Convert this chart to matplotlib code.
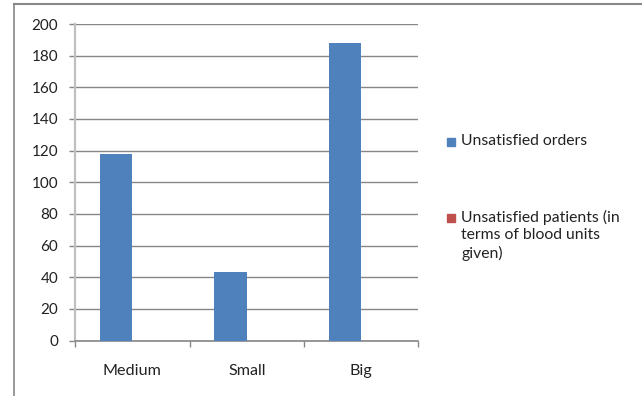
import matplotlib
matplotlib.use("Agg")
import matplotlib.pyplot as plt
import numpy as np
from matplotlib.lines import Line2D
from matplotlib.patches import Rectangle

categories = ["Medium", "Small", "Big"]
unsatisfied_orders = [118, 43, 188]
unsatisfied_patients = [0, 0, 0]
series_names = ["Unsatisfied orders",
                "Unsatisfied patients (in\nterms of blood units\ngiven)"]
series_colors = ["#4f81bd", "#c0504d"]
y_ticks = [0, 20, 40, 60, 80, 100, 120, 140, 160, 180, 200]

plt.rcParams["font.family"] = ["Lato", "DejaVu Sans"]

W, H = 642, 396
fig = plt.figure(figsize=(W / 100, H / 100), dpi=100)
ax = fig.add_axes([75 / W, 1 - 340.5 / H, (418.5 - 75) / W, (340.5 - 24) / H])

x = np.arange(len(categories))
bw = 1 / 3.5
ax.bar(x - bw / 2, unsatisfied_orders, width=bw, color=series_colors[0],
       linewidth=0, zorder=3)
ax.bar(x + bw / 2, unsatisfied_patients, width=bw, color=series_colors[1],
       linewidth=0, zorder=3)

ax.set_xlim(-0.5, len(categories) - 0.5)
ax.set_ylim(0, 200)
ax.set_yticks(y_ticks)
ax.set_yticklabels([str(v) for v in y_ticks], fontsize=11, color="#222222")
ax.yaxis.grid(True, color="#868686", linewidth=1, zorder=0)
ax.set_axisbelow(True)

ax.set_xticks(np.arange(-0.5, len(categories), 1.0))
ax.set_xticklabels([])
ax.set_xticks(x, minor=True)
ax.set_xticklabels(categories, minor=True, fontsize=11.6, color="#222222")
ax.tick_params(axis="x", which="major", length=4, width=1, color="#868686",
               direction="out")
ax.tick_params(axis="x", which="minor", length=0, pad=17)
ax.tick_params(axis="y", length=4, width=1, color="#868686", pad=8)

for s in ["top", "right"]:
    ax.spines[s].set_visible(False)
ax.spines["left"].set_color("#c0c0c0")
ax.spines["left"].set_linewidth(1.6)
ax.spines["bottom"].set_color("#868686")
ax.spines["bottom"].set_linewidth(1.2)

# legend drawn beside the plot
legend_rows = [142, 218]
for name, color, yp in zip(series_names, series_colors, legend_rows):
    fig.patches.append(Rectangle((447 / W, 1 - (yp + 4) / H), 8 / W, 8 / H,
                                 transform=fig.transFigure, color=color))
    fig.text(461 / W, 1 - (yp - 8) / H, name, fontsize=11.3, color="#222222",
             va="top", ha="left", linespacing=1.3)

# chart area frame
fig.add_artist(Line2D([13.5 / W, 13.5 / W], [0, 1 - 4 / H],
                      transform=fig.transFigure, color="#888888", lw=1.2))
fig.add_artist(Line2D([13.5 / W, 1], [1 - 4 / H, 1 - 4 / H],
                      transform=fig.transFigure, color="#888888", lw=1.5))

fig.savefig("out.png", dpi=100)
